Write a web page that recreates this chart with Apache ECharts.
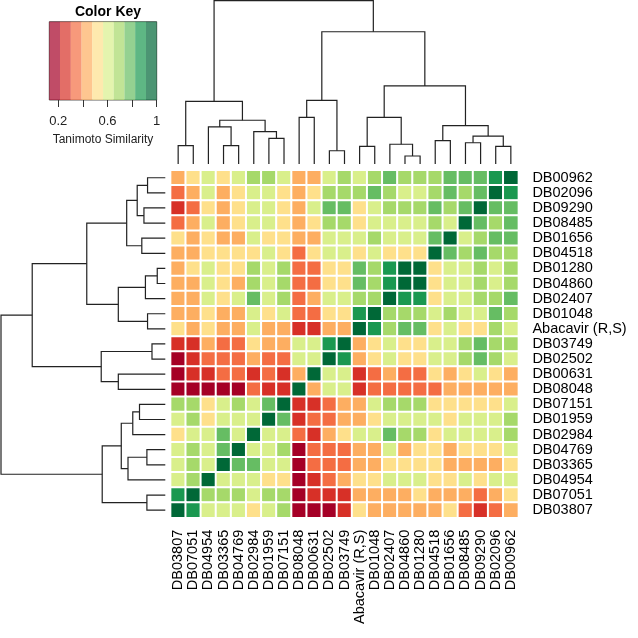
<!DOCTYPE html>
<html><head><meta charset="utf-8">
<script src="https://cdn.jsdelivr.net/npm/echarts@6/dist/echarts.min.js"></script>
<style>html,body{margin:0;padding:0;background:#fff}#c{width:638px;height:638px}</style>
</head><body><div id="c"></div>
<script>
// Column order (left to right) = dendrogram leaf order
const colLabels = ['DB03807','DB07051','DB04954','DB03365','DB04769','DB02984','DB01959','DB07151','DB08048','DB00631','DB02502','DB03749','Abacavir (R,S)','DB01048','DB02407','DB04860','DB01280','DB04518','DB01656','DB08485','DB09290','DB02096','DB00962'];
// Row order (top to bottom)
const rowLabels = ['DB00962','DB02096','DB09290','DB08485','DB01656','DB04518','DB01280','DB04860','DB02407','DB01048','Abacavir (R,S)','DB03749','DB02502','DB00631','DB08048','DB07151','DB01959','DB02984','DB04769','DB03365','DB04954','DB07051','DB03807'];

// Tanimoto similarity, one array per row (rowLabels order), columns in colLabels order
const similarity = [
 [.43,.52,.61,.52,.61,.69,.69,.61,.43,.43,.61,.69,.61,.69,.78,.69,.69,.69,.78,.78,.78,.87,1],
 [.35,.43,.61,.43,.52,.61,.61,.52,.43,.52,.69,.69,.69,.78,.69,.61,.61,.69,.78,.69,.78,1,.87],
 [.26,.35,.52,.43,.52,.61,.61,.52,.43,.61,.78,.78,.52,.61,.69,.69,.69,.78,.69,.78,1,.78,.78],
 [.35,.43,.61,.43,.52,.61,.61,.52,.43,.52,.69,.69,.52,.61,.61,.61,.61,.69,.61,1,.78,.69,.78],
 [.52,.43,.52,.43,.43,.61,.52,.52,.43,.43,.61,.61,.61,.69,.61,.61,.61,.78,1,.61,.69,.78,.78],
 [.43,.43,.52,.52,.52,.52,.61,.52,.35,.52,.61,.61,.52,.61,.52,.52,.52,1,.78,.69,.78,.69,.69],
 [.43,.52,.61,.52,.52,.69,.61,.69,.35,.35,.52,.52,.78,.69,.87,.96,1,.52,.61,.61,.69,.61,.69],
 [.43,.43,.61,.52,.43,.69,.61,.69,.35,.35,.52,.52,.78,.69,.87,1,.96,.52,.61,.61,.69,.61,.69],
 [.43,.43,.61,.52,.61,.78,.61,.69,.35,.43,.61,.61,.69,.69,1,.87,.87,.52,.61,.61,.69,.69,.78],
 [.43,.43,.52,.43,.43,.61,.52,.61,.35,.35,.52,.52,.87,1,.69,.69,.69,.61,.69,.61,.61,.78,.69],
 [.52,.43,.52,.43,.43,.61,.43,.43,.26,.26,.43,.43,1,.87,.69,.78,.78,.52,.61,.52,.52,.69,.61],
 [.26,.26,.43,.35,.35,.52,.43,.43,.61,.61,.87,1,.43,.52,.61,.52,.52,.61,.61,.69,.78,.69,.69],
 [.17,.26,.35,.35,.35,.43,.35,.35,.61,.61,1,.87,.43,.52,.61,.52,.52,.61,.61,.69,.78,.69,.61],
 [.17,.26,.26,.35,.35,.26,.35,.26,.43,1,.61,.61,.26,.35,.43,.35,.35,.52,.43,.52,.61,.52,.43],
 [.17,.17,.17,.17,.17,.35,.26,.26,1,.43,.61,.61,.26,.35,.35,.35,.35,.35,.43,.43,.43,.43,.43],
 [.69,.69,.52,.61,.69,.61,.78,1,.26,.26,.35,.43,.43,.61,.69,.69,.69,.52,.52,.52,.52,.52,.61],
 [.61,.69,.52,.61,.61,.61,1,.78,.26,.35,.35,.43,.43,.52,.61,.61,.61,.61,.52,.61,.61,.61,.69],
 [.52,.61,.61,.78,.61,1,.61,.61,.35,.26,.43,.52,.61,.61,.78,.69,.69,.52,.61,.61,.61,.61,.69],
 [.61,.69,.61,.78,1,.61,.61,.69,.17,.35,.35,.35,.43,.43,.61,.43,.52,.52,.43,.52,.52,.52,.61],
 [.61,.69,.61,1,.78,.78,.61,.61,.17,.35,.35,.35,.43,.43,.52,.52,.52,.52,.43,.43,.43,.43,.52],
 [.61,.69,1,.61,.61,.61,.52,.52,.17,.26,.35,.43,.52,.52,.61,.61,.61,.52,.52,.61,.52,.61,.61],
 [.87,1,.69,.69,.69,.61,.69,.69,.17,.26,.26,.26,.43,.43,.43,.43,.52,.43,.43,.43,.35,.43,.52],
 [1,.87,.61,.61,.61,.52,.61,.69,.17,.17,.17,.26,.52,.43,.43,.43,.43,.43,.52,.35,.26,.35,.43]
];

// Colour key: 10 bins (RdYlGn)
const keyBreaks = [0.127,0.214,0.302,0.389,0.476,0.564,0.651,0.738,0.825,0.913,1.0];
const palette = ['#a50026','#d73027','#f46d43','#fdae61','#fee08b','#d9ef8b','#a6d96a','#66bd63','#1a9850','#006837'];
const keyTicks = [0.2,0.4,0.6,0.8,1];
const keyTickLabels = [0.2,0.6,1];

// Hierarchical clustering (hclust-style): negative = leaf (1-based position in colLabels), positive = earlier merge
const treeMerge = [[-1,-2],[-4,-5],[-3,2],[-7,-8],[-6,4],[3,5],[1,6],[-9,-10],[-11,-12],[8,9],[-13,-14],[-16,-17],[-15,12],[11,13],[-18,-19],[-20,-21],[-22,-23],[16,17],[15,18],[14,19],[10,20],[7,21]];
const treeHeight = [0.112,0.112,0.227,0.157,0.198,0.268,0.384,0.286,0.081,0.390,0.108,0.049,0.121,0.286,0.143,0.130,0.108,0.171,0.235,0.478,0.810,1.0];

const FONT = 'Liberation Sans, Arial, sans-serif';

function dendroSegments() {
  const pos = [], hgt = [], segs = [];
  treeMerge.forEach((m, i) => {
    const a = m.map(k => k < 0 ? {p: -k - 1, h: 0} : {p: pos[k - 1], h: hgt[k - 1]});
    pos[i] = (a[0].p + a[1].p) / 2;
    hgt[i] = treeHeight[i];
    segs.push([a[0].p, a[1].p, a[0].h, a[1].h, treeHeight[i]]);
  });
  return segs;
}
const segs = dendroSegments();

const heatData = [];
similarity.forEach((row, r) => row.forEach((v, c) => heatData.push([c, r, v])));

const HM = {left: 170.6, top: 170.2, width: 347.8, height: 347.5};
const LINE = {stroke: '#222', lineWidth: 1.2, fill: 'none'};

const chart = echarts.init(document.getElementById('c'), null, {renderer: 'canvas'});
chart.setOption({
  animation: false,
  backgroundColor: '#fff',
  title: {text: 'Color Key', left: 103, top: 0, textAlign: 'center',
    textStyle: {fontSize: 14, fontWeight: 'bold', color: '#000', fontFamily: FONT}},
  grid: [
    Object.assign({}, HM),
    {left: HM.left, top: 0.7, width: HM.width, height: 163.3},
    {left: 1, top: HM.top, width: 164.3, height: HM.height},
    {left: 49.3, top: 21.7, width: 107.4, height: 78.3, show: true, borderColor: '#333', borderWidth: 0.8, backgroundColor: 'transparent'}
  ],
  xAxis: [
    {gridIndex: 0, type: 'category', data: colLabels, position: 'bottom',
      axisLine: {show: false}, axisTick: {show: false}, splitLine: {show: false},
      axisLabel: {rotate: 90, interval: 0, fontSize: 14.5, color: '#000', fontFamily: FONT, margin: 12}},
    {gridIndex: 1, type: 'value', min: -0.5, max: 22.5, show: false},
    {gridIndex: 2, type: 'value', min: 0, max: 1, inverse: true, show: false},
    {gridIndex: 3, type: 'value', min: keyBreaks[0], max: 1,
      axisLine: {show: false}, splitLine: {show: false},
      axisTick: {show: true, length: 7, customValues: keyTicks, lineStyle: {color: '#333'}},
      axisLabel: {customValues: keyTickLabels, fontSize: 13, color: '#222', fontFamily: FONT, margin: 15,
        formatter: v => String(v)},
      name: 'Tanimoto Similarity', nameLocation: 'middle', nameGap: 34,
      nameTextStyle: {fontSize: 12, color: '#222', fontFamily: FONT}}
  ],
  yAxis: [
    {gridIndex: 0, type: 'category', data: rowLabels, inverse: true, position: 'right',
      axisLine: {show: false}, axisTick: {show: false}, splitLine: {show: false},
      axisLabel: {interval: 0, fontSize: 14.5, color: '#000', fontFamily: FONT, margin: 14}},
    {gridIndex: 1, type: 'value', min: 0, max: 1, show: false},
    {gridIndex: 2, type: 'value', min: -0.5, max: 22.5, show: false},
    {gridIndex: 3, type: 'value', min: 0, max: 1, show: false}
  ],
  visualMap: {
    type: 'piecewise', show: false, seriesIndex: 0, dimension: 2,
    pieces: palette.map((col, i) => ({gte: keyBreaks[i], lt: i === 9 ? 1.0001 : keyBreaks[i + 1], color: col}))
  },
  series: [
    {type: 'heatmap', xAxisIndex: 0, yAxisIndex: 0, data: heatData, silent: true,
      itemStyle: {borderColor: '#fff', borderWidth: 2}, emphasis: {disabled: true}},
    {type: 'custom', xAxisIndex: 1, yAxisIndex: 1, data: segs, silent: true,
      renderItem: (params, api) => ({type: 'polyline', shape: {points: [
        api.coord([api.value(0), api.value(2)]), api.coord([api.value(0), api.value(4)]),
        api.coord([api.value(1), api.value(4)]), api.coord([api.value(1), api.value(3)])]}, style: LINE})},
    {type: 'custom', xAxisIndex: 2, yAxisIndex: 2, data: segs, silent: true,
      renderItem: (params, api) => ({type: 'polyline', shape: {points: [
        api.coord([api.value(2), api.value(0)]), api.coord([api.value(4), api.value(0)]),
        api.coord([api.value(4), api.value(1)]), api.coord([api.value(3), api.value(1)])]}, style: LINE})},
    {type: 'custom', xAxisIndex: 3, yAxisIndex: 3, silent: true,
      data: palette.map((col, i) => [keyBreaks[i], keyBreaks[i + 1], i]),
      renderItem: (params, api) => {
        const p0 = api.coord([api.value(0), 1]);
        const p1 = api.coord([api.value(1), 0]);
        return {type: 'rect', shape: {x: p0[0], y: p0[1], width: p1[0] - p0[0], height: p1[1] - p0[1]},
          style: {fill: palette[api.value(2)], opacity: 0.7}};
      }}
  ]
});
</script></body></html>
